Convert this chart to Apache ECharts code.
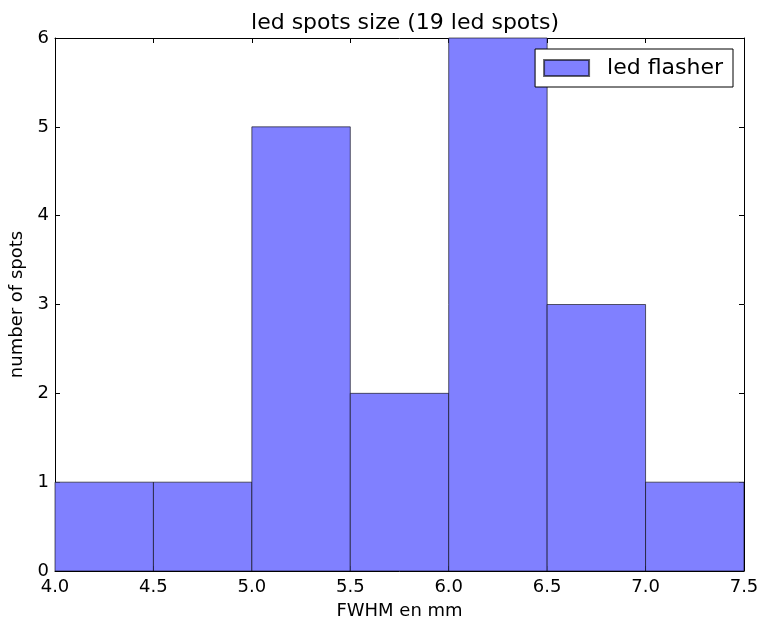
<!DOCTYPE html>
<html>
<head>
<meta charset="utf-8">
<script src="https://cdn.jsdelivr.net/npm/echarts@6/dist/echarts.min.js"></script>
<style>html,body{margin:0;padding:0;background:#fff;}#c{width:760px;height:624px;}</style>
</head>
<body>
<div id="c"></div>
<script>
const binStarts = [4.0, 4.5, 5.0, 5.5, 6.0, 6.5, 7.0];
const binEnds = [4.5, 5.0, 5.5, 6.0, 6.5, 7.0, 7.5];
const counts = [1, 1, 5, 2, 6, 3, 1];
const seriesName = 'led flasher';
const titleText = 'led spots size (19 led spots)';
const xLabel = 'FWHM en mm';
const yLabel = 'number of spots';

const data = binStarts.map((s, i) => [s, binEnds[i], counts[i]]);
const font = 'DejaVu Sans';
const chart = echarts.init(document.getElementById('c'));
const tickCommon = {show: true, inside: true, length: 5, lineStyle: {color: '#000', width: 1}};
chart.setOption({
  animation: false,
  textStyle: {fontFamily: font},
  title: {text: titleText, left: 400, textAlign: 'center', top: 7,
    textStyle: {fontFamily: font, fontSize: 22, fontWeight: 'normal', color: '#000'}},
  legend: {data: [{name: seriesName, icon: 'rect'}], right: 27, top: 49, orient: 'horizontal',
    itemWidth: 45, itemHeight: 16, itemGap: 10,
    padding: [8, 10, 8, 8], borderColor: '#000', borderWidth: 1, backgroundColor: '#fff',
    textStyle: {fontFamily: font, fontSize: 22, color: '#000', padding: [0, 0, 0, 13]}},
  grid: {left: 55, right: 16, top: 38, bottom: 53, outerBoundsMode: 'none', containLabel: false},
  xAxis: [{type: 'value', min: 4.0, max: 7.5, interval: 0.5,
    name: xLabel, nameLocation: 'middle', nameGap: 31,
    nameTextStyle: {fontFamily: font, fontSize: 18, color: '#000'},
    axisLine: {show: true, onZero: false, lineStyle: {color: '#000', width: 1}},
    axisTick: tickCommon, splitLine: {show: false},
    axisLabel: {fontFamily: font, fontSize: 18, color: '#000', margin: 7, formatter: v => v.toFixed(1)}},
    {type: 'value', position: 'top', min: 4.0, max: 7.5, interval: 0.5,
    axisLine: {show: true, onZero: false, lineStyle: {color: '#000', width: 1}},
    axisTick: tickCommon, splitLine: {show: false}, axisLabel: {show: false}}],
  yAxis: [{type: 'value', min: 0, max: 6, interval: 1,
    name: yLabel, nameLocation: 'middle', nameGap: 26,
    nameTextStyle: {fontFamily: font, fontSize: 18, color: '#000'},
    axisLine: {show: true, onZero: false, lineStyle: {color: '#000', width: 1}},
    axisTick: tickCommon, splitLine: {show: false},
    axisLabel: {fontFamily: font, fontSize: 18, color: '#000', margin: 6}},
    {type: 'value', position: 'right', min: 0, max: 6, interval: 1,
    axisLine: {show: true, onZero: false, lineStyle: {color: '#000', width: 1}},
    axisTick: tickCommon, splitLine: {show: false}, axisLabel: {show: false}}],
  series: [{
    type: 'custom', name: seriesName, data: data,
    itemStyle: {color: '#8080ff', borderColor: 'rgba(0,0,0,0.6)', borderWidth: 1},
    encode: {x: [0, 1], y: 2},
    renderItem: function (params, api) {
      const p0 = api.coord([api.value(0), api.value(2)]);
      const p1 = api.coord([api.value(1), 0]);
      return {type: 'rect', shape: {x: p0[0], y: p0[1], width: p1[0] - p0[0], height: p1[1] - p0[1]},
        style: {fill: '#8080ff', stroke: 'rgba(0,0,0,0.6)', lineWidth: 1}};
    }
  }]
});
</script>
</body>
</html>
